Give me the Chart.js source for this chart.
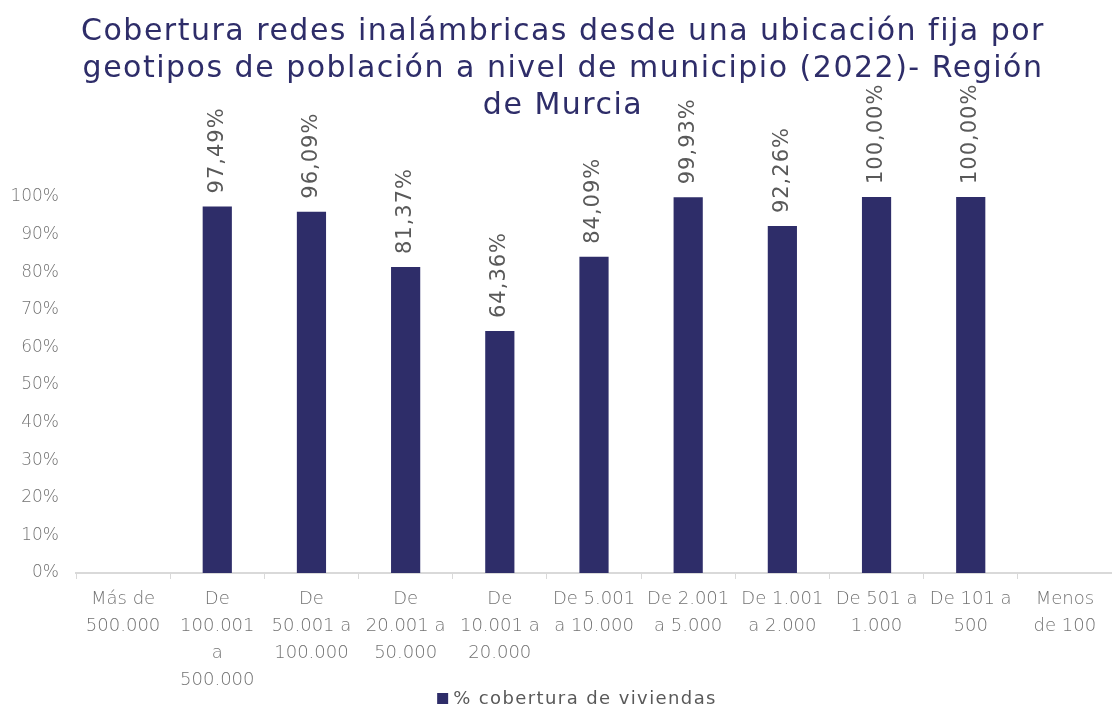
<!DOCTYPE html>
<html>
<head>
<meta charset="utf-8">
<script src="https://cdn.jsdelivr.net/npm/chart.js@4/dist/chart.umd.min.js"></script>
<style>
  html, body { margin: 0; padding: 0; background: #fff; }
  #wrap { width: 1112px; height: 709px; }
</style>
</head>
<body>
<div id="wrap"><canvas id="chart"></canvas></div>
<script>
// datos del gráfico
const categories = [
  ['Más de', '500.000'],
  ['De', '100.001', 'a', '500.000'],
  ['De', '50.001 a', '100.000'],
  ['De', '20.001 a', '50.000'],
  ['De', '10.001 a', '20.000'],
  ['De 5.001', 'a 10.000'],
  ['De 2.001', 'a 5.000'],
  ['De 1.001', 'a 2.000'],
  ['De 501 a', '1.000'],
  ['De 101 a', '500'],
  ['Menos', 'de 100']
];
const coverage = [null, 97.49, 96.09, 81.37, 64.36, 84.09, 99.93, 92.26, 100, 100, null];
const yTicks = [0, 10, 20, 30, 40, 50, 60, 70, 80, 90, 100];
const seriesName = '% cobertura de viviendas';
const titleLines = [
  'Cobertura redes inalámbricas desde una ubicación fija por',
  'geotipos de población a nivel de municipio (2022)- Región',
  'de Murcia'
];

const NAVY = '#2E2D69';
const FONT = "'DejaVu Sans', sans-serif";

function fmt(v) {
  return v.toFixed(2).replace('.', ',') + '%';
}

// etiquetas giradas encima de cada barra
const barLabels = {
  id: 'barLabels',
  afterDatasetsDraw(chart) {
    const ctx = chart.ctx;
    const meta = chart.getDatasetMeta(0);
    ctx.save();
    ctx.fillStyle = '#595959';
    ctx.font = '21px ' + FONT;
    ctx.letterSpacing = '1px';
    ctx.textAlign = 'left';
    ctx.textBaseline = 'middle';
    meta.data.forEach(function(bar, i) {
      const v = coverage[i];
      if (v === null) return;
      ctx.save();
      ctx.translate(bar.x, bar.y - 13);
      ctx.rotate(-Math.PI / 2);
      ctx.fillText(fmt(v), 0, 0);
      ctx.restore();
    });
    ctx.restore();
  }
};

// título y leyenda a mano, para que no reserven espacio
const titleAndLegend = {
  id: 'titleAndLegend',
  afterDraw(chart) {
    const ctx = chart.ctx;
    ctx.save();
    ctx.fillStyle = NAVY;
    ctx.font = '30px ' + FONT;
    ctx.letterSpacing = '1.5px';
    ctx.textAlign = 'center';
    ctx.textBaseline = 'middle';
    titleLines.forEach(function(line, i) {
      ctx.fillText(line, 563, 32 + i * 37);
    });

    ctx.letterSpacing = '1.4px';
    ctx.font = '18px ' + FONT;
    const tw = ctx.measureText(seriesName).width;
    const total = 11 + 5 + tw;
    const x0 = 577 - total / 2;
    ctx.fillStyle = NAVY;
    ctx.fillRect(x0, 693, 11, 11);
    ctx.fillStyle = '#595959';
    ctx.textAlign = 'left';
    ctx.fillText(seriesName, x0 + 16, 699);
    ctx.restore();
  }
};

new Chart(document.getElementById('chart'), {
  type: 'bar',
  data: {
    labels: categories,
    datasets: [{
      label: seriesName,
      data: coverage,
      backgroundColor: NAVY,
      categoryPercentage: 0.62,
      barPercentage: 0.5
    }]
  },
  options: {
    responsive: true,
    maintainAspectRatio: false,
    animation: false,
    layout: { padding: { top: 197, left: 10, right: 0, bottom: 16 } },
    plugins: {
      title: { display: false },
      tooltip: { enabled: false },
      legend: { display: false }
    },
    scales: {
      x: {
        afterFit(axis) { axis.height = 120; },
        grid: {
          offset: true,
          drawOnChartArea: false,
          color: '#D9D9D9',
          tickLength: 6
        },
        border: { color: '#D9D9D9', width: 2 },
        ticks: {
          color: '#737373',
          font: { family: FONT, size: 18, weight: 200, lineHeight: 1.5 },
          maxRotation: 0,
          autoSkip: false,
          padding: 7
        }
      },
      y: {
        min: 0,
        max: 100,
        afterFit(axis) { axis.width = 66; },
        afterBuildTicks(axis) {
          axis.ticks = yTicks.map(function(v) { return { value: v }; });
        },
        grid: { display: false },
        border: { display: false },
        ticks: {
          color: '#737373',
          font: { family: FONT, size: 17, weight: 200 },
          padding: 9,
          callback: function(v) { return v + '%'; }
        }
      }
    }
  },
  plugins: [barLabels, titleAndLegend]
});
</script>
</body>
</html>
